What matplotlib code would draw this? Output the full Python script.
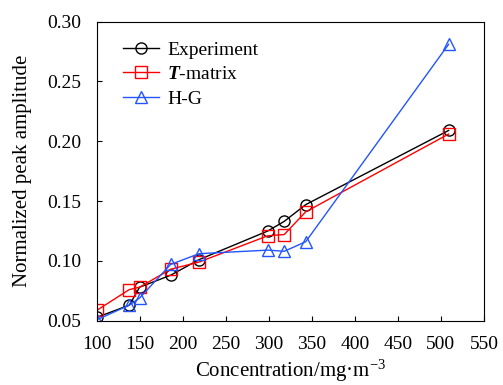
#!/usr/bin/env python3

import matplotlib
matplotlib.use("Agg")
import matplotlib.pyplot as plt

conc = [101, 138, 150, 186, 219, 299, 318, 343, 509]
experiment = [0.053, 0.063, 0.078, 0.088, 0.101, 0.125, 0.133, 0.147, 0.209]
tmatrix = [0.059, 0.076, 0.078, 0.093, 0.099, 0.121, 0.122, 0.141, 0.206]
hg = [0.051, 0.063, 0.069, 0.097, 0.106, 0.109, 0.108, 0.116, 0.281]
yticks = [0.05, 0.10, 0.15, 0.20, 0.25, 0.30]

plt.rcParams['font.family'] = ['Liberation Serif', 'DejaVu Serif']
plt.rcParams['mathtext.fontset'] = 'custom'
plt.rcParams['mathtext.bfit'] = 'Liberation Serif:bold:italic'
plt.rcParams['mathtext.it'] = 'Liberation Serif:italic'
plt.rcParams['mathtext.rm'] = 'Liberation Serif'

fig = plt.figure(figsize=(5.03, 3.85), dpi=100)
ax = fig.add_axes([0.192, 0.167, 0.770, 0.777])

mk = dict(markersize=8, markerfacecolor='none', markeredgewidth=1.0, linewidth=1.0)
ax.plot(conc, experiment, color='black', marker='o', label='Experiment', **mk)
ax.plot(conc, tmatrix, color='#ff0000', marker='s', label=r'$\boldsymbol{T}$-matrix', **mk)
ax.plot(conc, hg, color='#2255ff', marker='^', label='H-G', **mk)

ax.set_xlim(100, 550)
ax.set_ylim(0.05, 0.30)
ax.set_xticks(range(100, 551, 50))
ax.set_yticks(yticks)
ax.set_yticklabels(['%.2f' % v for v in yticks])
ax.tick_params(direction='in', labelsize=14, length=3.5, pad=11)
ax.set_xlabel('Concentration/mg\u00b7m$^{\u22123}$', fontsize=15, labelpad=3.5)
ax.set_ylabel('Normalized peak amplitude', fontsize=15, labelpad=11)

ax.legend(loc='upper left', bbox_to_anchor=(122.7 / 503, 1 - 41 / 385),
          bbox_transform=fig.transFigure, frameon=False, borderpad=0,
          borderaxespad=0, fontsize=14, handlelength=1.85, handletextpad=0.45,
          labelspacing=0.36)

plt.savefig("out.png", dpi=100)
